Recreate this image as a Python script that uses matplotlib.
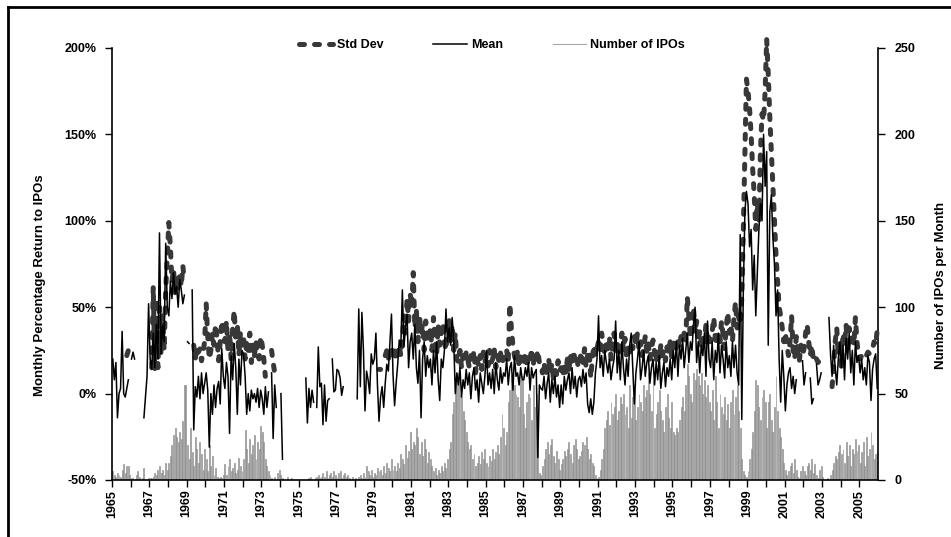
import numpy as np
import matplotlib
matplotlib.use('Agg')
import matplotlib.pyplot as plt
from matplotlib.lines import Line2D

plt.rcParams['font.family'] = ['Liberation Sans', 'DejaVu Sans']
plt.rcParams['font.weight'] = 'bold'

first_year = 1965
last_year = 2005

# monthly mean first-day return (%), None = no data
mean_pct = [
    20, 8, 18, -14, 0, 3, 36, 0, -2, 3, 8, None,            # 1965
    20, 24, 20, None, None, None, None, None, -14, -2, 10, 52,  # 1966
    20, 14, 35, 15, 40, 20, 93, 23, 40, 30, 87, 50,          # 1967
    45, 65, 55, 70, 58, 62, 50, 66, 60, 52, 57, None,        # 1968
    30, 29, None, 60, -21, 4, -2, 10, -3, 12, 0, 6,          # 1969
    12, 2, -31, 0, -12, 5, -8, 3, 7, -6, 26, 10,             # 1970
    3, 18, 10, -23, 22, 8, 29, 15, -12, 20, 5, 25,           # 1971
    23, 10, -12, 0, -10, 2, -3, 0, -5, 3, -8, 2,             # 1972
    -3, -12, 4, -8, 1, None, 12, -26, 5, -8, None, None,     # 1973
    0, -38, None, None, None, None, None, None, None, None, None, None,  # 1974
    None, None, None, None, 9, -17, 3, -8, 2, -5, None, -8,  # 1975
    27, 4, 6, -18, 5, -16, -4, -3, None, 20, 1, 2,           # 1976
    14, 13, 9, -1, 4, None, None, None, None, None, None, None,  # 1977
    None, -3, 49, 4, 47, 25, -10, 13, 8, 0, 23, 17,          # 1978
    20, 35, 5, -16, -2, 4, -8, 6, 17, 13, 30, 46,            # 1979
    11, -7, 6, 17, 31, 27, 60, 27, 38, 46, 15, 30,           # 1980
    35, 20, 40, 15, 6, 25, -14, 20, 30, 10, 22, 15,          # 1981
    20, 5, 25, 12, 30, 8, -4, 20, 15, 25, 49, 30,            # 1982
    38, 28, 44, 30, 0, 12, 5, 15, -2, 8, 3, 14,              # 1983
    5, 12, -3, 10, 15, 2, 8, -5, 12, 6, 0, 10,               # 1984
    25, 5, 12, 3, 14, 0, 18, 8, 2, 15, 6, 12,                # 1985
    10, 20, 5, 15, 18, 2, 22, 10, 12, 5, 15, 8,              # 1986
    8, 15, 10, 18, 2, 15, 9, 12, 14, -37, 5, 3,              # 1987
    2, 10, -3, 6, 12, -5, 8, 0, 10, -2, 5, -8,               # 1988
    5, -6, 10, 2, 8, 12, 0, 15, 3, 10, -2, 8,                # 1989
    10, 4, 14, 6, 12, -6, -11, -3, -12, -5, 12, 20,          # 1990
    45, 15, 22, 10, 25, 18, 12, 20, 8, 15, 20, 42,           # 1991
    12, 25, 8, 30, 15, 5, 20, 10, 28, 35, 15, -6,            # 1992
    12, 20, 30, 8, 15, 25, 10, 18, 22, 6, 15, 20,            # 1993
    5, 18, 8, 22, 3, 12, 18, 4, 15, 10, 20, 8,               # 1994
    25, 15, 30, 10, 28, 20, 32, 15, 25, 35, 18, 30,          # 1995
    25, 40, 50, 18, 30, 12, 28, 22, 35, 10, 42, 20,          # 1996
    15, 30, 8, 25, 18, 35, 12, 28, 20, 9, 30, 15,            # 1997
    22, 10, 30, 15, 28, 12, 5, 92, -15, 60, 105, 117,        # 1998
    110, 85, 95, 60, 80, 45, 70, 95, 110, 100, 150, 120,     # 1999
    140, 28, 105, 115, 90, 75, 45, 60, 20, -5, 25, 10,       # 2000
    -10, 5, 12, 15, 3, 10, 0, 8, None, None, None, 19,       # 2001
    5, 12, None, None, 9, -6, -3, None, 17, 5, 8, 12,        # 2002
    None, None, None, None, 44, 23, 10, 28, 15, 5, 20, 30,   # 2003
    15, 28, 8, 32, 20, 35, 12, 25, 5, 30, 18, 22,            # 2004
    12, 20, 8, 15, 5, 22, 18, -4, 14, 20, 23, 3,             # 2005
]

# monthly standard deviation of first-day returns (%)
std_pct = [
    None, None, None, None, None, None, None, None, None, 22, 25, 23,  # 1965
    None, None, None, None, None, None, None, None, None, None, None, None,  # 1966
    None, 15, 62, 14, 55, 15, 50, 22, 45, 25, 60, 80,        # 1967
    99, 85, 65, 72, 58, 68, 60, 70, 62, 74, 65, None,        # 1968
    None, None, None, None, 28, 20, 27, 24, 26, 19, 24, 30,  # 1969
    52, 33, 20, 25, 35, 28, 40, 32, 19, 30, 42, 35,          # 1970
    30, 42, 25, 35, 20, 38, 48, 30, 40, 22, 35, 28,          # 1971
    33, 20, 30, 25, 35, 18, 28, 22, 30, 24, 20, 33,          # 1972
    28, 20, 10, None, None, None, 25, 18, 12, None, None, None,  # 1973
    None, None, None, None, None, None, None, None, None, None, None, None,  # 1974
    None, None, None, None, None, None, None, None, None, None, None, None,  # 1975
    None, None, None, None, None, None, None, None, None, None, None, None,  # 1976
    None, None, None, None, None, None, None, None, None, None, None, None,  # 1977
    None, None, None, None, None, None, None, None, None, None, None, None,  # 1978
    None, None, None, 14, 14, None, None, 22, 25, 20, 24, 27,  # 1979
    22, 26, 19, 24, 28, 22, 30, 45, 35, 55, 42, 58,          # 1980
    50, 70, 38, 48, 30, 45, 35, 40, 25, 42, 33, 30,          # 1981
    38, 25, 44, 32, 22, 40, 28, 35, 41, 30, 25, 38,          # 1982
    44, 30, 40, 25, 35, 20, 18, 25, 15, 22, 18, 24,          # 1983
    20, 15, 22, 18, 25, 12, 20, 16, 22, 14, 24, 18,          # 1984
    22, 16, 25, 18, 20, 26, 15, 22, 19, 24, 17, 21,          # 1985
    20, 25, 18, 52, 38, 28, 22, 18, 25, 15, 22, 20,          # 1986
    18, 24, 15, 22, 19, 26, 16, 23, 20, 25, 18, 15,          # 1987
    12, 18, 10, 15, 20, 12, 17, 9, 14, 11, 19, 13,           # 1988
    15, 10, 18, 12, 20, 14, 22, 16, 25, 18, 21, 15,          # 1989
    20, 24, 18, 26, 15, 22, 25, 9, 20, 28, 22, 26,           # 1990
    30, 25, 35, 28, 22, 30, 26, 33, 20, 28, 35, 25,          # 1991
    30, 22, 28, 35, 25, 32, 20, 28, 24, 30, 26, 33,          # 1992
    28, 35, 25, 30, 22, 27, 33, 24, 29, 20, 26, 31,          # 1993
    24, 18, 26, 20, 28, 22, 25, 19, 27, 23, 30, 21,          # 1994
    28, 32, 25, 30, 27, 33, 29, 35, 30, 56, 45, 32,          # 1995
    38, 50, 35, 42, 30, 36, 28, 33, 30, 40, 28, 35,          # 1996
    30, 36, 44, 32, 28, 35, 30, 42, 34, 26, 38, 47,          # 1997
    35, 40, 30, 44, 53, 38, 45, 40, 55, 95, 140, 182,        # 1998
    175, 165, 150, 130, 115, 95, 110, 100, 140, 162, 158, 175,  # 1999
    205, 185, 160, 140, 120, 100, 80, 65, 50, 45, 38, 30,    # 2000
    35, 28, 22, 30, 45, 25, 20, 33, 24, 19, 28, 22,          # 2001
    26, 35, 40, 30, 22, 28, 19, 21, 20, 18, 19, 17,          # 2002
    None, None, None, None, None, None, 4, 15, 30, 38, 22, 30,  # 2003
    15, 35, 28, 40, 25, 38, 30, 35, 28, 44, 30, 22,          # 2004
    20, 22, 21, 23, 22, 24, 23, 25, 26, 30, 28, 37,          # 2005
]

# number of IPOs per month
ipo_count = [
    5, 3, 2, 4, 3, 2, 6, 9, 4, 8, 8, 3,          # 1965
    1, 2, 0, 3, 5, 2, 0, 1, 7, 0, 0, 1,          # 1966
    1, 1, 2, 4, 3, 6, 8, 4, 6, 3, 10, 6,         # 1967
    10, 14, 20, 26, 30, 25, 22, 28, 24, 34, 55, 55,  # 1968
    20, 12, 30, 16, 8, 25, 18, 10, 22, 15, 6, 18,    # 1969
    12, 5, 20, 8, 14, 3, 7, 2, 1, 2, 1, 3,       # 1970
    9, 3, 8, 12, 5, 7, 10, 4, 6, 13, 8, 5,       # 1971
    12, 29, 18, 10, 24, 15, 20, 26, 12, 22, 18, 31,  # 1972
    28, 22, 12, 8, 5, 3, 1, 0, 2, 0, 4, 6,       # 1973
    3, 1, 0, 0, 2, 0, 0, 1, 0, 0, 0, 0,          # 1974
    0, 0, 0, 0, 0, 0, 1, 2, 0, 0, 1, 2,          # 1975
    3, 1, 2, 4, 2, 5, 1, 3, 4, 2, 5, 3,          # 1976
    2, 4, 5, 1, 3, 4, 2, 3, 1, 0, 2, 0,          # 1977
    1, 0, 2, 3, 1, 4, 2, 8, 5, 3, 6, 2,          # 1978
    4, 3, 7, 5, 6, 3, 8, 4, 10, 7, 5, 12,        # 1979
    6, 8, 5, 10, 7, 15, 12, 9, 20, 13, 17, 28,   # 1980
    18, 22, 20, 30, 25, 15, 22, 14, 24, 18, 10, 16,  # 1981
    12, 8, 5, 7, 3, 6, 4, 8, 5, 10, 7, 12,       # 1982
    18, 22, 38, 45, 55, 58, 62, 50, 48, 40, 35, 28,  # 1983
    22, 18, 20, 12, 15, 8, 10, 14, 9, 16, 12, 18,    # 1984
    10, 8, 14, 11, 18, 12, 16, 20, 15, 25, 38, 30,   # 1985
    20, 28, 45, 52, 60, 58, 55, 50, 48, 42, 58, 60,  # 1986
    38, 30, 45, 50, 48, 35, 55, 42, 50, 20, 4, 3,    # 1987
    8, 12, 18, 22, 15, 20, 24, 14, 10, 17, 12, 6,    # 1988
    9, 12, 17, 14, 18, 22, 15, 10, 20, 24, 18, 12,   # 1989
    14, 17, 22, 20, 25, 18, 12, 15, 10, 8, 3, 1,     # 1990
    2, 6, 12, 18, 30, 35, 40, 32, 45, 38, 42, 50,    # 1991
    35, 40, 48, 44, 50, 38, 42, 30, 55, 36, 48, 52,  # 1992
    35, 42, 50, 45, 40, 55, 48, 52, 62, 50, 40, 58,  # 1993
    30, 38, 45, 52, 40, 35, 28, 42, 50, 36, 30, 45,  # 1994
    28, 26, 30, 28, 35, 42, 48, 40, 55, 67, 60, 50,  # 1995
    45, 62, 58, 64, 60, 55, 62, 50, 58, 48, 55, 45,  # 1996
    40, 52, 35, 60, 45, 30, 50, 42, 38, 48, 35, 44,  # 1997
    30, 45, 52, 38, 48, 55, 40, 30, 12, 5, 3, 2,     # 1998
    5, 12, 18, 28, 40, 58, 55, 42, 35, 48, 52, 45,   # 1999
    30, 45, 50, 35, 28, 42, 60, 40, 30, 25, 18, 10,  # 2000
    6, 3, 5, 8, 10, 4, 12, 6, 2, 1, 5, 8,            # 2001
    5, 3, 8, 10, 6, 12, 4, 9, 3, 1, 6, 8,            # 2002
    2, 0, 0, 1, 0, 3, 6, 10, 14, 12, 16, 20,         # 2003
    15, 18, 10, 22, 14, 20, 8, 18, 15, 24, 17, 20,   # 2004
    10, 16, 22, 8, 25, 14, 18, 28, 20, 12, 15, 16,   # 2005
]

year_labels = [str(y) if (y - first_year) % 2 == 0 else '' for y in range(first_year, last_year + 1)]

mean_arr = np.array(mean_pct, dtype=float)
std_arr = np.array(std_pct, dtype=float)
cnt_arr = np.array(ipo_count, dtype=float)
x = first_year + (np.arange(len(cnt_arr)) + 0.5) / 12.0

fig = plt.figure(figsize=(9.51, 5.37), dpi=100)
ax = fig.add_axes([112/951, 57/537, 766/951, 432/537])
ax2 = ax.twinx()
ax.set_zorder(ax2.get_zorder() + 1)
ax.patch.set_visible(False)

ax2.bar(x, cnt_arr, width=0.6/12, color='#c4c4c4', edgecolor='#7a7a7a', linewidth=0.4)
ax.plot(x, std_arr, color='#383838', lw=3.6, dashes=(1.0, 2.0), dash_capstyle='round', clip_on=False)
ax.plot(x, mean_arr, color='black', lw=1.1, clip_on=False)

ax.set_xlim(first_year, last_year + 1)
ax.set_ylim(-50, 200)
ax2.set_ylim(0, 250)
ax.set_yticks(np.arange(-50, 201, 50))
ax.set_yticklabels(['%d%%' % v for v in range(-50, 201, 50)])
ax2.set_yticks(np.arange(0, 251, 50))
ax.set_xticks(np.arange(first_year, last_year + 1))
ax.set_xticklabels(year_labels, rotation=90)

for a in (ax, ax2):
    a.spines['top'].set_visible(False)
    for s in a.spines.values():
        s.set_linewidth(1.2)
ax.spines['right'].set_visible(False)
ax2.spines['left'].set_visible(False)
ax2.spines['bottom'].set_visible(False)

ax.tick_params(axis='y', direction='out', length=5, width=1, pad=6, labelsize=9)
ax2.tick_params(axis='y', direction='out', length=5, width=1, pad=7, labelsize=9)
ax.tick_params(axis='x', direction='out', length=5, width=1, pad=2, labelsize=9)

ax.set_ylabel('Monthly Percentage Return to IPOs', fontsize=9.5, fontweight='bold')
ax.yaxis.set_label_coords((46 - 112) / 766, (480 - 285) / 432)
ax2.set_ylabel('Number of IPOs per Month', fontsize=9.5, fontweight='bold')
ax2.yaxis.set_label_coords((935 - 112) / 766, (480 - 285) / 432)

handles = [
    Line2D([], [], color='#383838', lw=3.6, dashes=(1.0, 2.0), dash_capstyle='round'),
    Line2D([], [], color='black', lw=1.1),
    Line2D([], [], color='#a8a8a8', lw=0.8),
]
fig.legend(handles, ['Std Dev', 'Mean', 'Number of IPOs'], loc='center',
           bbox_to_anchor=(492/951, 1 - 45/537), ncol=3, frameon=False, fontsize=9,
           handlelength=2.7, handletextpad=0.3, columnspacing=4.0)

# outer frame (top and left edges visible)
fig.add_artist(Line2D([8/951, 8/951], [0, 1 - 7/537], transform=fig.transFigure, color='black', lw=2))
fig.add_artist(Line2D([8/951, 1], [1 - 7/537, 1 - 7/537], transform=fig.transFigure, color='black', lw=2))

fig.savefig('out.png', dpi=100)
